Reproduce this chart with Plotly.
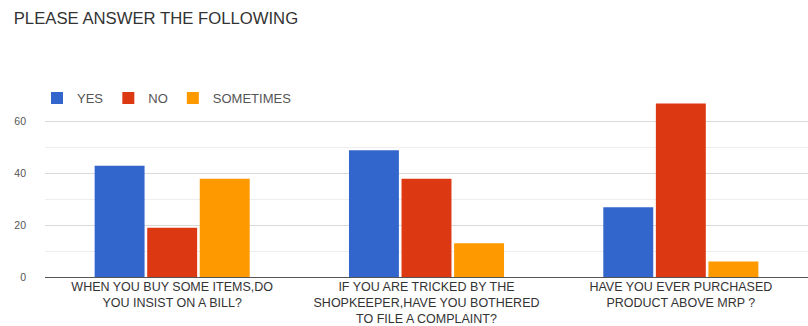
import plotly.graph_objects as go

categories = [
    "WHEN YOU BUY SOME ITEMS,DO<br>YOU INSIST ON A BILL?",
    "IF YOU ARE TRICKED BY THE<br>SHOPKEEPER,HAVE YOU BOTHERED<br>TO FILE A COMPLAINT?",
    "HAVE YOU EVER PURCHASED<br>PRODUCT ABOVE MRP ?",
]
yes_vals = [43, 49, 27]
no_vals = [19, 38, 67]
sometimes_vals = [38, 13, 6]
series_names = ["YES", "NO", "SOMETIMES"]
colors = ["#3366CC", "#DC3912", "#FF9900"]

fig = go.Figure()
for name, vals, col in zip(series_names, [yes_vals, no_vals, sometimes_vals], colors):
    fig.add_trace(go.Bar(name=name, x=categories, y=vals, marker_color=col,
                         marker_line_width=0))

font_family = "Liberation Sans, Arial, sans-serif"
fig.update_layout(
    width=808, height=326,
    margin=dict(l=45, r=0, t=100, b=47),
    paper_bgcolor="white", plot_bgcolor="white",
    barmode="group", bargap=0.38, bargroupgap=0.05,
    font=dict(family=font_family, color="#444"),
    title=dict(text="PLEASE ANSWER THE FOLLOWING", x=0.017, xanchor="left",
               y=0.945, yanchor="middle",
               font=dict(size=16.7, color="#333", family=font_family)),
    legend=dict(orientation="h", x=-0.0105, xanchor="left", y=1.011, yanchor="middle",
                font=dict(size=13, color="#555"), itemwidth=30,
                traceorder="normal", bgcolor="rgba(0,0,0,0)"),
    showlegend=True,
)
fig.update_xaxes(tickfont=dict(size=12.5, color="#333"), showgrid=False,
                 showline=False, ticks="")
fig.update_yaxes(range=[0, 68.4], tickvals=[0, 20, 40, 60],
                 tickfont=dict(size=10.5, color="#555"),
                 showgrid=True, gridcolor="#d9d9d9", gridwidth=1,
                 minor=dict(tickvals=[10, 30, 50], showgrid=True, gridcolor="#eeeeee"),
                 zeroline=True, zerolinecolor="#555", zerolinewidth=1,
                 ticks="", ticklabelstandoff=18)

fig.write_html("out.html")
